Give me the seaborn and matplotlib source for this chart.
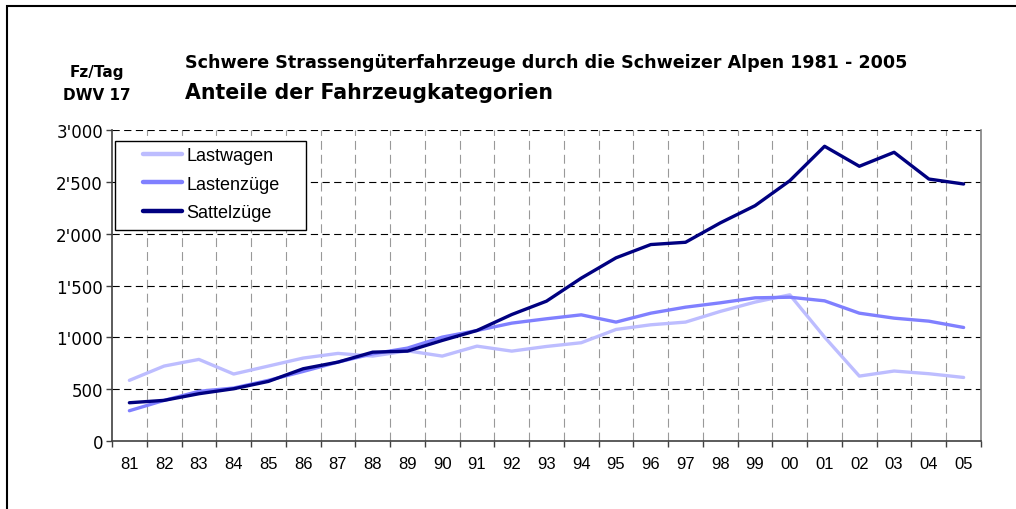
import matplotlib
matplotlib.use("Agg")
import matplotlib.pyplot as plt
import seaborn as sns
import pandas as pd
from matplotlib.patches import Rectangle
from matplotlib.ticker import FixedLocator, FuncFormatter

years = ['81', '82', '83', '84', '85', '86', '87', '88', '89', '90', '91', '92', '93',
         '94', '95', '96', '97', '98', '99', '00', '01', '02', '03', '04', '05']
lastwagen = [585, 723, 787, 646, 723, 800, 845, 819, 870, 819, 915, 867, 912,
             948, 1076, 1121, 1147, 1250, 1340, 1410, 1002, 626, 675, 649, 613]
lastenzuege = [292, 392, 479, 511, 585, 671, 761, 841, 896, 1002, 1066, 1137, 1179,
               1217, 1147, 1233, 1291, 1333, 1381, 1387, 1352, 1233, 1185, 1156, 1095]
sattelzuege = [369, 392, 456, 504, 575, 697, 761, 857, 867, 970, 1066, 1220, 1349,
               1571, 1767, 1895, 1917, 2104, 2270, 2511, 2843, 2650, 2785, 2527, 2479]
series_names = ['Lastwagen', 'Lastenzüge', 'Sattelzüge']
y_ticks = [0, 500, 1000, 1500, 2000, 2500, 3000]

palette = {'Lastwagen': '#BDBDFF', 'Lastenzüge': '#8080FF', 'Sattelzüge': '#000080'}

rows = []
for name, vals in zip(series_names, [lastwagen, lastenzuege, sattelzuege]):
    for i, v in enumerate(vals):
        rows.append({'pos': i, 'year': years[i], 'value': v, 'Kategorie': name})
df = pd.DataFrame(rows)

sns.set_style("white")
plt.rcParams['font.family'] = ['Liberation Sans', 'DejaVu Sans']
plt.rcParams['text.color'] = 'black'
plt.rcParams['xtick.color'] = 'black'
plt.rcParams['ytick.color'] = 'black'
wide = ['DejaVu Sans']

fig = plt.figure(figsize=(10.16, 5.10), dpi=100)
ax = fig.add_axes([112 / 1016, 1 - 442 / 510, 869 / 1016, 311 / 510])

# outer chart frame (cropped on the right and bottom)
fig.patches.append(Rectangle((7 / 1016, -0.1), 1.2, 1 - 7 / 510 + 0.1,
                             transform=fig.transFigure, fill=False,
                             edgecolor='black', linewidth=1.5))

sns.lineplot(data=df, x='pos', y='value', hue='Kategorie', hue_order=series_names,
             palette=palette, linewidth=2.4, ax=ax, legend=True)

ax.set_xlim(-0.5, len(years) - 0.5)
ax.set_ylim(0, 3000)
ax.set_xlabel('')
ax.set_ylabel('')

# category labels at centres, tick marks and grid at category borders
ax.set_xticks(range(len(years)))
ax.set_xticklabels(years, fontsize=12)
ax.xaxis.set_minor_locator(FixedLocator([i - 0.5 for i in range(len(years) + 1)]))
ax.tick_params(axis='x', which='major', length=0, pad=11)
ax.tick_params(axis='x', which='minor', length=4, width=1, color='#404040', direction='out', bottom=True)
for b in range(1, len(years)):
    ax.axvline(b - 0.5, color='#999999', linestyle=(0, (8, 4.5)), linewidth=0.8, zorder=0)

ax.set_yticks(y_ticks)
ax.yaxis.set_major_formatter(FuncFormatter(lambda v, p: f"{int(v):,}".replace(',', "'")))
ax.tick_params(axis='y', length=4.5, width=1, color='#404040', direction='out', left=True, pad=2)
for lab in ax.get_yticklabels():
    lab.set_family(wide)
    lab.set_fontsize(12)
for t in y_ticks[1:]:
    ax.axhline(t, color='black', linestyle=(0, (6.5, 4)), linewidth=0.8, zorder=0)

for side in ['left', 'bottom']:
    ax.spines[side].set_color('#404040')
    ax.spines[side].set_linewidth(1.2)
ax.spines['right'].set_color('#808080')
ax.spines['right'].set_linewidth(1.2)
ax.spines['top'].set_visible(False)

# legend box drawn separately so the padding matches the original
ax.add_patch(Rectangle((3 / 869, 211 / 311), 191 / 869, 89 / 311, transform=ax.transAxes,
                       facecolor='white', edgecolor='black', linewidth=1.0, zorder=4))
leg = ax.legend(loc='upper left', bbox_to_anchor=(31 / 869, 294 / 311), fontsize=13,
                frameon=False, handlelength=2.15, handletextpad=0.25, labelspacing=0.65,
                borderpad=0, borderaxespad=0)
leg.set_zorder(5)
for line in leg.get_lines():
    line.set_linewidth(3.2)

fig.text(97 / 1016, 1 - 73 / 510, 'Fz/Tag', ha='center', va='center', fontsize=11,
         fontweight='bold', family=wide)
fig.text(97 / 1016, 1 - 96 / 510, 'DWV 17', ha='center', va='center', fontsize=11,
         fontweight='bold', family=wide)
fig.text(185 / 1016, 1 - 63 / 510,
         'Schwere Strassengüterfahrzeuge durch die Schweizer Alpen 1981 - 2005',
         ha='left', va='center', fontsize=12.6, fontweight='bold', family=wide)
fig.text(185 / 1016, 1 - 93 / 510, 'Anteile der Fahrzeugkategorien',
         ha='left', va='center', fontsize=14.8, fontweight='bold', family=wide)

fig.savefig('out.png', dpi=100)
